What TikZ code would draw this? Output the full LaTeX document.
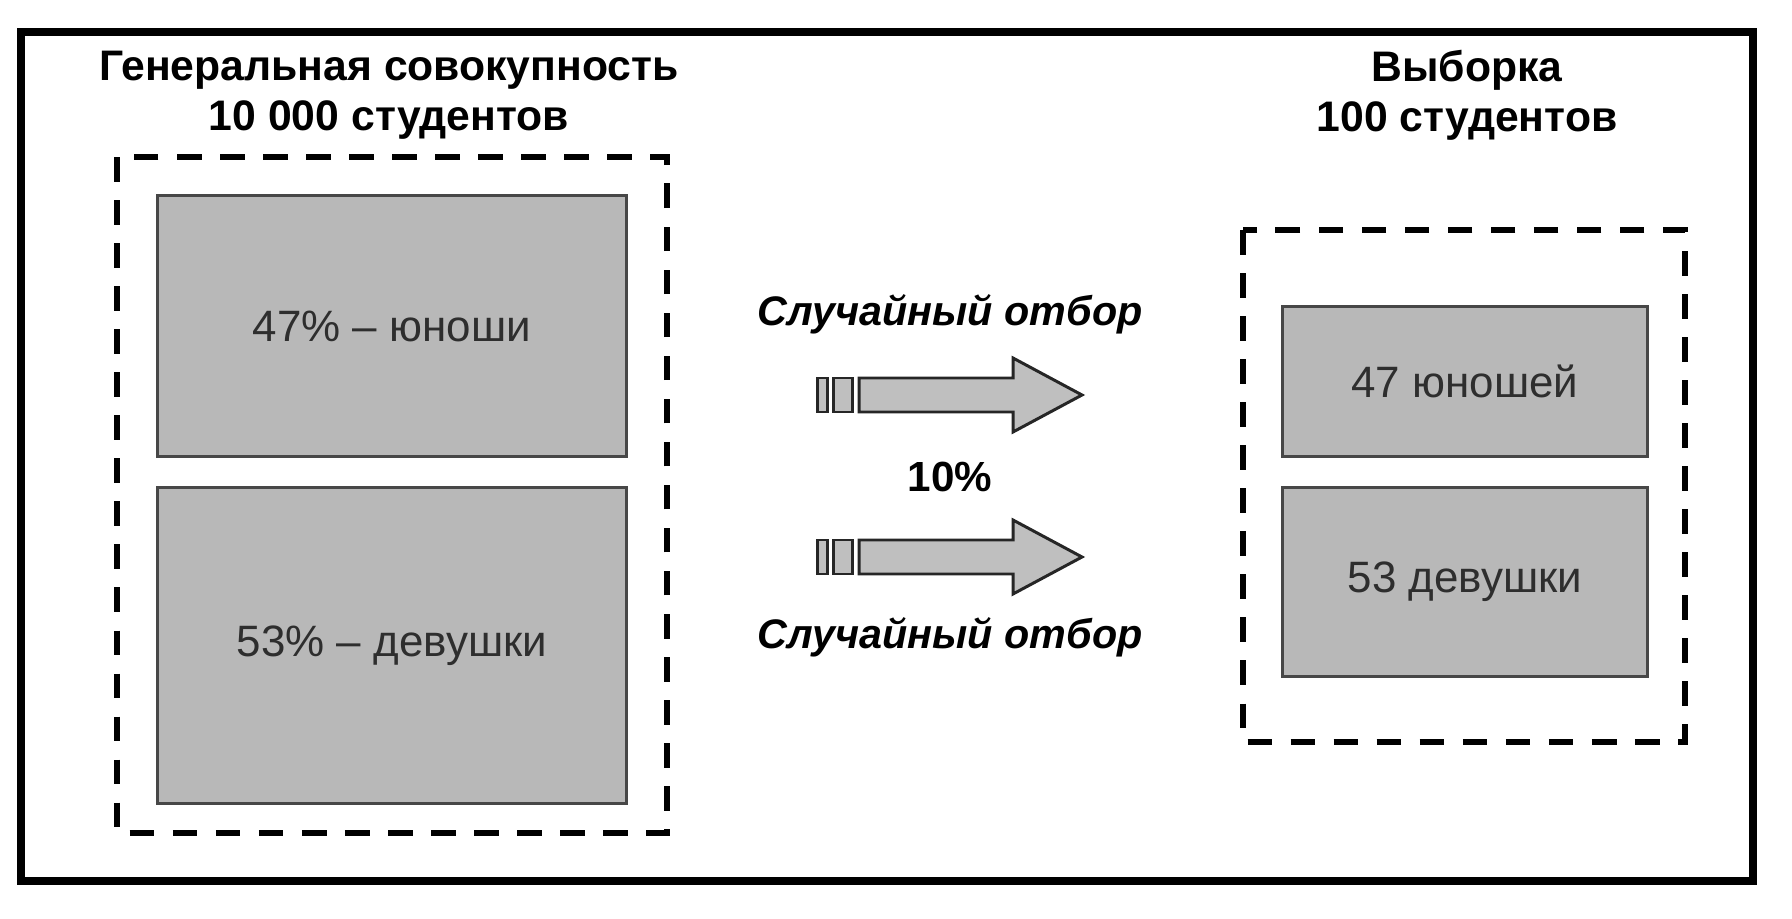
\documentclass[tikz,border=0pt]{standalone}
\usepackage{fontspec}
\setmainfont{Liberation Sans}

\begin{document}
\begin{tikzpicture}[x=0.02cm, y=-0.02cm]
\tikzset{boite/.style={draw=black!72, line width=1.7pt, fill=black!28, text=black!82, inner sep=0pt, font=\fontsize{25}{30}\selectfont}}
\tikzset{tirets/.style={draw, line width=3.4pt, dash pattern=on 14pt off 10.5pt}}
\tikzset{titre/.style={align=center, inner sep=0pt, font=\bfseries\fontsize{24.3}{28.5}\selectfont}}
\tikzset{choix/.style={anchor=base, inner sep=0pt, font=\bfseries\itshape\fontsize{23.5}{28}\selectfont}}
\tikzset{fleche/.style={draw=black!85, line width=1.7pt, fill=black!25, line join=miter}}
\useasboundingbox (0,0) rectangle (1792,919);
\draw[line width=4.6pt] (21,32) rectangle (1753,881);
% population
\node[titre] (T1) at (389,95) {Генеральная совокупность\\10 000 студентов};
\draw[tirets] (117,157) rectangle (667,833);
\node[boite, minimum width=9.4cm, minimum height=5.24cm] (P1) at (392,326) {47\% – юноши};
\node[boite, minimum width=9.4cm, minimum height=6.34cm] (P2) at (392,645.5) {53\% – девушки};
% sample
\node[titre] (T2) at (1467,95) {Выборка\\100 студентов};
\draw[tirets] (1243,230) rectangle (1685,742);
\node[boite, minimum width=7.32cm, minimum height=3.02cm] (S1) at (1465,381.5) {47 юношей};
\node[boite, minimum width=7.32cm, minimum height=3.8cm] (S2) at (1465,582) {53 девушки};
% selection
\node[choix] (C1) at (950,325) {Случайный отбор};
\node[choix] (C2) at (950,648) {Случайный отбор};
\node[choix, font=\bfseries\fontsize{24}{28}\selectfont] (D) at (950,491) {10\%};
\foreach \c in {395,557} {
  \draw[fleche] (817,\c-17) rectangle (827,\c+17);
  \draw[fleche] (833,\c-17) rectangle (852,\c+17);
  \draw[fleche] (859,\c-17) -- (1013,\c-17) -- (1013,\c-37) -- (1082,\c)
    -- (1013,\c+37) -- (1013,\c+17) -- (859,\c+17) -- cycle;
}
\end{tikzpicture}
\end{document}
